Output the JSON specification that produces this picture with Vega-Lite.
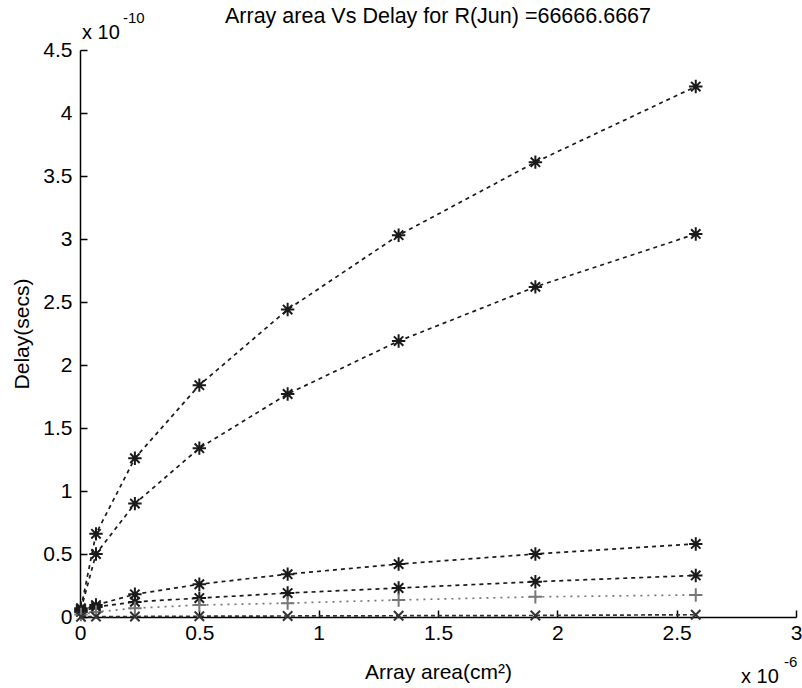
{
  "$schema": "https://vega.github.io/schema/vega-lite/v6.json",
  "autosize": {"type": "none"},
  "padding": {"left": 80, "top": 50, "right": 6, "bottom": 71},
  "width": 716,
  "height": 567,
  "background": "white",
  "config": {
    "view": {"stroke": null},
    "font": "Liberation Sans",
    "axis": {"grid": false, "domainColor": "black", "domainWidth": 1.5, "tickColor": "black", "tickWidth": 1.5, "labelColor": "black", "titleColor": "black", "labelFontSize": 21, "titleFontSize": 21, "titleFontWeight": "normal", "labelFont": "Liberation Sans", "titleFont": "Liberation Sans"}
  },
  "data": {"values": [
    {"s": "A", "x": 0.004, "y": 0.07}, {"s": "A", "x": 0.067, "y": 0.66}, {"s": "A", "x": 0.23, "y": 1.26}, {"s": "A", "x": 0.5, "y": 1.84}, {"s": "A", "x": 0.87, "y": 2.44}, {"s": "A", "x": 1.335, "y": 3.03}, {"s": "A", "x": 1.908, "y": 3.61}, {"s": "A", "x": 2.58, "y": 4.21},
    {"s": "B", "x": 0.004, "y": 0.06}, {"s": "B", "x": 0.067, "y": 0.5}, {"s": "B", "x": 0.23, "y": 0.9}, {"s": "B", "x": 0.5, "y": 1.34}, {"s": "B", "x": 0.87, "y": 1.77}, {"s": "B", "x": 1.335, "y": 2.19}, {"s": "B", "x": 1.908, "y": 2.62}, {"s": "B", "x": 2.58, "y": 3.04},
    {"s": "C", "x": 0.004, "y": 0.05}, {"s": "C", "x": 0.067, "y": 0.095}, {"s": "C", "x": 0.23, "y": 0.18}, {"s": "C", "x": 0.5, "y": 0.26}, {"s": "C", "x": 0.87, "y": 0.34}, {"s": "C", "x": 1.335, "y": 0.42}, {"s": "C", "x": 1.908, "y": 0.5}, {"s": "C", "x": 2.58, "y": 0.58},
    {"s": "D", "x": 0.004, "y": 0.04}, {"s": "D", "x": 0.067, "y": 0.08}, {"s": "D", "x": 0.23, "y": 0.12}, {"s": "D", "x": 0.5, "y": 0.15}, {"s": "D", "x": 0.87, "y": 0.19}, {"s": "D", "x": 1.335, "y": 0.23}, {"s": "D", "x": 1.908, "y": 0.28}, {"s": "D", "x": 2.58, "y": 0.33},
    {"s": "E", "x": 0.004, "y": 0.02}, {"s": "E", "x": 0.067, "y": 0.04}, {"s": "E", "x": 0.23, "y": 0.07}, {"s": "E", "x": 0.5, "y": 0.095}, {"s": "E", "x": 0.87, "y": 0.11}, {"s": "E", "x": 1.335, "y": 0.135}, {"s": "E", "x": 1.908, "y": 0.16}, {"s": "E", "x": 2.58, "y": 0.175},
    {"s": "F", "x": 0.004, "y": 0.002}, {"s": "F", "x": 0.067, "y": 0.003}, {"s": "F", "x": 0.23, "y": 0.004}, {"s": "F", "x": 0.5, "y": 0.006}, {"s": "F", "x": 0.87, "y": 0.008}, {"s": "F", "x": 1.335, "y": 0.01}, {"s": "F", "x": 1.908, "y": 0.012}, {"s": "F", "x": 2.58, "y": 0.018}
  ]},
  "layer": [
    {
      "mark": {"type": "line", "strokeWidth": 1.7, "clip": false},
      "encoding": {
        "x": {"field": "x", "type": "quantitative", "scale": {"domain": [0, 3], "nice": false, "zero": false}, "axis": {"values": [0, 0.5, 1, 1.5, 2, 2.5, 3], "format": "~g", "tickSize": -7, "labelPadding": 12, "title": "Array area(cm²)", "titlePadding": 18, "labelFlush": false}},
        "y": {"field": "y", "type": "quantitative", "scale": {"domain": [0, 4.5], "nice": false}, "axis": {"values": [0, 0.5, 1, 1.5, 2, 2.5, 3, 3.5, 4, 4.5], "format": "~g", "tickSize": -7, "labelPadding": 15, "title": "Delay(secs)", "titlePadding": 10, "labelFlush": false}},
        "detail": {"field": "s"},
        "color": {"field": "s", "type": "nominal", "scale": {"domain": ["A", "B", "C", "D", "E", "F"], "range": ["#1a1a1a", "#1a1a1a", "#1a1a1a", "#1a1a1a", "#777", "#333"]}, "legend": null},
        "strokeDash": {"field": "s", "type": "nominal", "scale": {"domain": ["A", "B", "C", "D", "E", "F"], "range": [[4, 4], [4, 4], [4, 4], [4, 4], [2, 5], [4, 3]]}, "legend": null}
      }
    },
    {
      "mark": {"type": "point", "filled": false, "strokeWidth": 2, "opacity": 1, "clip": false},
      "encoding": {
        "x": {"field": "x", "type": "quantitative"},
        "y": {"field": "y", "type": "quantitative"},
        "color": {"field": "s", "type": "nominal", "scale": {"domain": ["A", "B", "C", "D", "E", "F"], "range": ["#111", "#111", "#111", "#111", "#333", "#777"]}, "legend": null},
        "shape": {"field": "s", "type": "nominal", "scale": {"domain": ["A", "B", "C", "D", "E", "F"], "range": ["M-1,0H1M0,-1V1M-0.7,-0.7L0.7,0.7M-0.7,0.7L0.7,-0.7", "M-1,0H1M0,-1V1M-0.7,-0.7L0.7,0.7M-0.7,0.7L0.7,-0.7", "M-1,0H1M0,-1V1M-0.7,-0.7L0.7,0.7M-0.7,0.7L0.7,-0.7", "M-1,0H1M0,-1V1M-0.7,-0.7L0.7,0.7M-0.7,0.7L0.7,-0.7", "M-1,0H1M0,-1V1", "M-0.7,-0.7L0.7,0.7M-0.7,0.7L0.7,-0.7"]}, "legend": null},
        "size": {"field": "s", "type": "nominal", "scale": {"domain": ["A", "B", "C", "D", "E", "F"], "range": [180, 180, 180, 180, 110, 110]}, "legend": null}
      }
    },
    {
      "data": {"values": [{"t": "Array area Vs Delay for R(Jun) =66666.6667"}]},
      "mark": {"type": "text", "align": "center", "baseline": "alphabetic", "fontSize": 21.5, "dy": -27, "color": "black"},
      "encoding": {"text": {"field": "t"}, "x": {"datum": 1.5}, "y": {"datum": 4.5}}
    },
    {
      "data": {"values": [{"t": "x 10"}]},
      "mark": {"type": "text", "align": "left", "baseline": "alphabetic", "fontSize": 20, "dx": 2, "dy": -11, "color": "black"},
      "encoding": {"text": {"field": "t"}, "x": {"datum": 0}, "y": {"datum": 4.5}}
    },
    {
      "data": {"values": [{"t": "-10"}]},
      "mark": {"type": "text", "align": "left", "baseline": "alphabetic", "fontSize": 15, "dx": 43, "dy": -27, "color": "black"},
      "encoding": {"text": {"field": "t"}, "x": {"datum": 0}, "y": {"datum": 4.5}}
    },
    {
      "data": {"values": [{"t": "x 10"}]},
      "mark": {"type": "text", "align": "left", "baseline": "alphabetic", "fontSize": 20, "dx": -55, "dy": 66, "color": "black"},
      "encoding": {"text": {"field": "t"}, "x": {"datum": 3}, "y": {"datum": 0}}
    },
    {
      "data": {"values": [{"t": "-6"}]},
      "mark": {"type": "text", "align": "left", "baseline": "alphabetic", "fontSize": 15, "dx": -12, "dy": 50, "color": "black"},
      "encoding": {"text": {"field": "t"}, "x": {"datum": 3}, "y": {"datum": 0}}
    }
  ]
}
